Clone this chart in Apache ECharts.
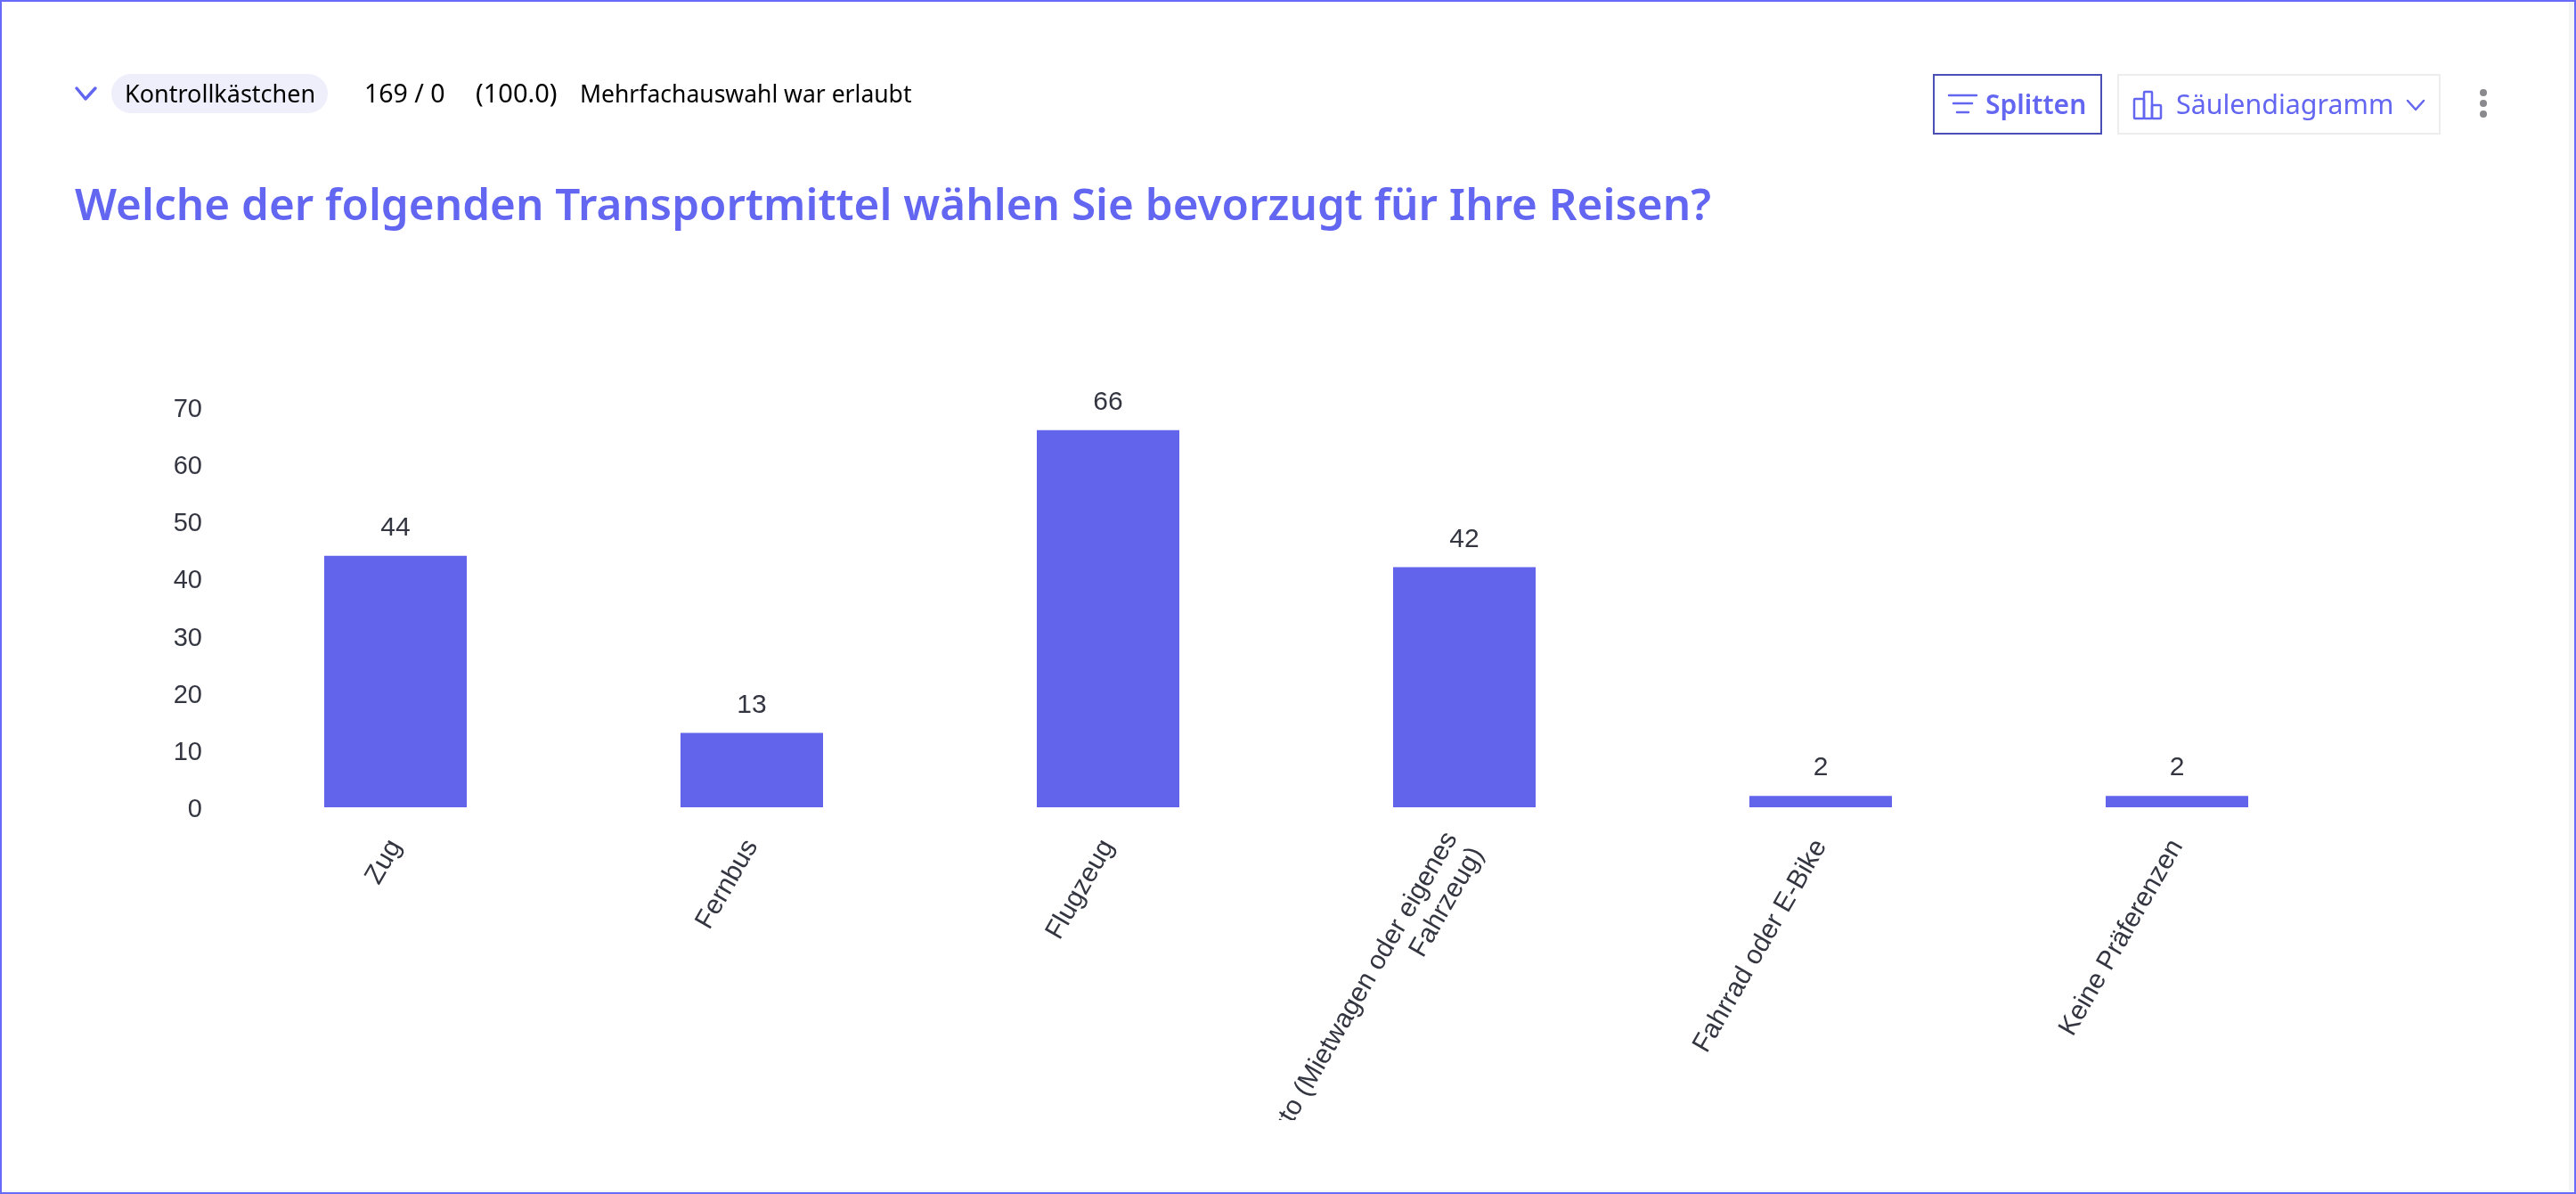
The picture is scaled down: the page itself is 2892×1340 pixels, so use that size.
<!DOCTYPE html>
<html><head><meta charset="utf-8">
<style>html,body{margin:0;padding:0;background:#fff;overflow:hidden}
#frame{position:absolute;left:0;top:0;width:2892px;height:1340px;box-sizing:border-box;border:2px solid #686BFA}
#sr{position:absolute;left:2884px;top:2px;width:6px;height:1336px;background:#F3F6F5}
#sb{position:absolute;left:2px;top:1336px;width:2888px;height:2px;background:#F3F6F5}
#chart{position:absolute;left:0;top:0;width:2892px;height:1257px}</style>
<script src="https://cdn.jsdelivr.net/npm/echarts@6/dist/echarts.min.js"></script>
</head><body><div id="frame"></div><div id="sr"></div><div id="sb"></div><div id="chart"></div>
<script>
const categories=["Zug","Fernbus","Flugzeug","Auto (Mietwagen oder eigenes\nFahrzeug)","Fahrrad oder E-Bike","Keine Präferenzen"];
const counts=[44,13,66,42,2,2];
const yTicks={min:0,max:70,interval:10};
const headerTexts={pill:"Kontrollkästchen",count:"169 / 0",pct:"(100.0)",note:"Mehrfachauswahl war erlaubt",
 title:"Welche der folgenden Transportmittel wählen Sie bevorzugt für Ihre Reisen?",split:"Splitten",type:"Säulendiagramm"};
const UI='"Noto Sans"',AX='"Liberation Sans"',IND='#6366F1',INK='#333640';
function T(x,y,text,size,fill,weight){return{type:'text',x,y,silent:true,style:{text,fontFamily:UI,fontSize:size,fontWeight:weight||400,fill,textVerticalAlign:'middle',verticalAlign:'middle'}}}
function L(pts,w,c){return{type:'polyline',silent:true,shape:{points:pts},style:{stroke:c||IND,lineWidth:w,fill:null,lineCap:'round',lineJoin:'round'}}}
function R(x,y,w,h,o){return{type:'rect',silent:true,shape:{x,y,width:w,height:h,r:o.r||0},style:{fill:o.fill||null,stroke:o.stroke||null,lineWidth:o.lw||0}}}
const graphic=[
 L([[86,99],[96,111],[107,99]],3.5),
 R(125,83,243,44,{fill:'#EFEFFC',r:22}),
 T(140,107,headerTexts.pill,27,'#000'),
 T(409,107,headerTexts.count,28.5,'#000'),
 T(534,107,headerTexts.pct,29,'#000'),
 T(651,107,headerTexts.note,26.5,'#000'),
 T(84,233,headerTexts.title,49.4,IND,600),
 R(2171,84,188,66,{stroke:'#4A4FB8',lw:2}),
 L([[2188,107],[2219,107]],2.5),L([[2193,116],[2214,116]],2.5),L([[2197,126],[2210,126]],2.5),
 T(2229,119,headerTexts.split,30,IND,600),
 R(2378,84,361,66,{stroke:'#EDEDED',lw:2}),
 R(2396,111,11,22,{stroke:IND,lw:2.5,r:1}),R(2407,103,9,30,{stroke:IND,lw:2.5,r:1}),R(2416,118,10,15,{stroke:IND,lw:2.5,r:1}),
 T(2443,119,headerTexts.type,30.4,IND,400),
 L([[2703,113],[2712,123],[2721,113]],2.5),
 {type:'circle',silent:true,shape:{cx:2788,cy:104,r:4},style:{fill:'#8A8A8E'}},
 {type:'circle',silent:true,shape:{cx:2788,cy:116,r:4},style:{fill:'#8A8A8E'}},
 {type:'circle',silent:true,shape:{cx:2788,cy:128,r:4},style:{fill:'#8A8A8E'}}
];
const chart=echarts.init(document.getElementById('chart'),null,{renderer:'canvas'});
chart.setOption({animation:false,backgroundColor:'transparent',
 grid:{left:244,top:457,width:2400,height:449,containLabel:false,outerBoundsMode:'none'},
 graphic,
 xAxis:{type:'category',data:categories,axisLine:{show:false},axisTick:{show:false},
  axisLabel:{interval:0,rotate:60,margin:39,fontFamily:AX,fontSize:30,color:INK,lineHeight:34,hideOverlap:false}},
 yAxis:{type:'value',min:yTicks.min,max:yTicks.max,interval:yTicks.interval,axisLine:{show:false},axisTick:{show:false},splitLine:{show:false},
  axisLabel:{margin:17,formatter:'{v|{value}}',rich:{v:{fontFamily:AX,fontSize:29,color:INK,padding:[6,0,0,0]}}}},
 series:[{type:'bar',data:counts,barWidth:160,itemStyle:{color:'#6264EC'},
  label:{show:true,position:'top',distance:16,fontFamily:AX,fontSize:30,color:INK}}]
});
</script></body></html>
